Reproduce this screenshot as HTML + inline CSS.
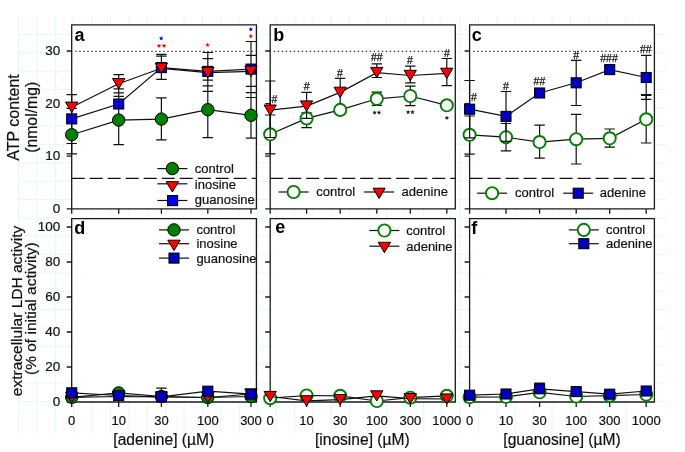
<!DOCTYPE html>
<html><head><meta charset="utf-8"><style>
html,body{margin:0;padding:0;background:#fff;width:685px;height:452px;overflow:hidden}
svg{display:block;will-change:transform}
text{font-family:"Liberation Sans",sans-serif}
</style></head><body>
<svg width="685" height="452" viewBox="0 0 685 452" font-family='"Liberation Sans", sans-serif'><path d="M18.5 16V433M36.9 16V433M55.3 16V433M73.7 16V433M92.1 16V433M110.5 16V433M128.9 16V433M147.3 16V433M165.7 16V433M184.1 16V433M202.5 16V433M220.9 16V433M239.3 16V433M257.7 16V433M276.1 16V433M294.5 16V433M312.9 16V433M331.3 16V433M349.7 16V433M368.1 16V433M386.5 16V433M404.9 16V433M423.3 16V433M441.7 16V433M460.1 16V433M478.5 16V433M496.9 16V433M515.3 16V433M533.7 16V433M552.1 16V433M570.5 16V433M588.9 16V433M607.3 16V433M625.7 16V433M18.5 34.4H667M18.5 52.7H667M18.5 71.1H667M18.5 89.4H667M18.5 107.8H667M18.5 126.1H667M18.5 144.5H667M18.5 162.8H667M18.5 181.2H667M18.5 199.5H667M18.5 217.9H667M18.5 236.2H667M18.5 254.6H667M18.5 272.9H667M18.5 291.2H667M18.5 309.6H667M18.5 328.0H667M18.5 346.3H667M18.5 364.7H667M18.5 383.0H667M18.5 401.4H667" stroke="#e4f8f6" stroke-width="1" fill="none"/>
<rect x="71.7" y="24.8" width="184.7" height="184.0" fill="#fff"/>
<rect x="71.7" y="218.6" width="184.7" height="183.4" fill="#fff"/>
<rect x="270.2" y="24.8" width="185.1" height="184.0" fill="#fff"/>
<rect x="270.2" y="218.6" width="185.1" height="183.4" fill="#fff"/>
<rect x="469.6" y="24.8" width="184.8" height="184.0" fill="#fff"/>
<rect x="469.6" y="218.6" width="184.8" height="183.4" fill="#fff"/>
<line x1="75.2" y1="51.4" x2="255.4" y2="51.4" stroke="#444" stroke-width="1.2" stroke-dasharray="1.5 2.5"/>
<line x1="71.7" y1="178.3" x2="256.4" y2="178.3" stroke="#111" stroke-width="1.3" stroke-dasharray="13 5"/>
<line x1="273.7" y1="51.4" x2="443.5" y2="51.4" stroke="#444" stroke-width="1.2" stroke-dasharray="1.5 2.5"/>
<line x1="270.2" y1="178.3" x2="455.3" y2="178.3" stroke="#111" stroke-width="1.3" stroke-dasharray="13 5"/>
<line x1="473.1" y1="51.4" x2="639.0" y2="51.4" stroke="#444" stroke-width="1.2" stroke-dasharray="1.5 2.5"/>
<line x1="469.6" y1="178.3" x2="654.4" y2="178.3" stroke="#111" stroke-width="1.3" stroke-dasharray="13 5"/>
<path d="M71.7 24.8H256.4V208.8H71.7ZM66.7 208.8H71.7M66.7 156.2H71.7M66.7 103.6H71.7M66.7 51.0H71.7M71.7 208.8V213.8M118.7 208.8V213.8M161.4 208.8V213.8M207.8 208.8V213.8M251.0 208.8V213.8M71.7 218.6H256.4V402.0H71.7ZM66.7 402.0H71.7M66.7 367.0H71.7M66.7 332.0H71.7M66.7 297.0H71.7M66.7 262.0H71.7M66.7 227.0H71.7M71.7 402.0V407.0M118.7 402.0V407.0M161.4 402.0V407.0M207.8 402.0V407.0M251.0 402.0V407.0M270.2 24.8H455.3V208.8H270.2ZM265.2 208.8H270.2M265.2 156.2H270.2M265.2 103.6H270.2M265.2 51.0H270.2M270.2 208.8V213.8M306.6 208.8V213.8M340.2 208.8V213.8M376.8 208.8V213.8M410.3 208.8V213.8M446.8 208.8V213.8M270.2 218.6H455.3V402.0H270.2ZM265.2 402.0H270.2M265.2 367.0H270.2M265.2 332.0H270.2M265.2 297.0H270.2M265.2 262.0H270.2M265.2 227.0H270.2M270.2 402.0V407.0M306.6 402.0V407.0M340.2 402.0V407.0M376.8 402.0V407.0M410.3 402.0V407.0M446.8 402.0V407.0M469.6 24.8H654.4V208.8H469.6ZM464.6 208.8H469.6M464.6 156.2H469.6M464.6 103.6H469.6M464.6 51.0H469.6M469.6 208.8V213.8M506.0 208.8V213.8M539.6 208.8V213.8M576.2 208.8V213.8M609.7 208.8V213.8M646.2 208.8V213.8M469.6 218.6H654.4V402.0H469.6ZM464.6 402.0H469.6M464.6 367.0H469.6M464.6 332.0H469.6M464.6 297.0H469.6M464.6 262.0H469.6M464.6 227.0H469.6M469.6 402.0V407.0M506.0 402.0V407.0M539.6 402.0V407.0M576.2 402.0V407.0M609.7 402.0V407.0M646.2 402.0V407.0" stroke="#1a1a1a" stroke-width="1.3" fill="none"/>
<text x="74.5" y="40.6" font-size="18" text-anchor="start" font-weight="bold" fill="#000" >a</text>
<text x="273.3" y="40.8" font-size="18" text-anchor="start" font-weight="bold" fill="#000" >b</text>
<text x="471.7" y="40.6" font-size="18" text-anchor="start" font-weight="bold" fill="#000" >c</text>
<text x="74.3" y="233.5" font-size="18" text-anchor="start" font-weight="bold" fill="#000" >d</text>
<text x="275.3" y="232.6" font-size="18" text-anchor="start" font-weight="bold" fill="#000" >e</text>
<text x="471.2" y="233.5" font-size="18" text-anchor="start" font-weight="bold" fill="#000" >f</text>
<text x="60.3" y="212.9" font-size="13.5" text-anchor="end" font-weight="normal" fill="#111" stroke="#111" stroke-width="0.2">0</text>
<text x="60.3" y="160.3" font-size="13.5" text-anchor="end" font-weight="normal" fill="#111" stroke="#111" stroke-width="0.2">10</text>
<text x="60.3" y="107.70000000000002" font-size="13.5" text-anchor="end" font-weight="normal" fill="#111" stroke="#111" stroke-width="0.2">20</text>
<text x="60.3" y="55.10000000000003" font-size="13.5" text-anchor="end" font-weight="normal" fill="#111" stroke="#111" stroke-width="0.2">30</text>
<text x="60.3" y="406.1" font-size="13.5" text-anchor="end" font-weight="normal" fill="#111" stroke="#111" stroke-width="0.2">0</text>
<text x="60.3" y="371.1" font-size="13.5" text-anchor="end" font-weight="normal" fill="#111" stroke="#111" stroke-width="0.2">20</text>
<text x="60.3" y="336.1" font-size="13.5" text-anchor="end" font-weight="normal" fill="#111" stroke="#111" stroke-width="0.2">40</text>
<text x="60.3" y="301.1" font-size="13.5" text-anchor="end" font-weight="normal" fill="#111" stroke="#111" stroke-width="0.2">60</text>
<text x="60.3" y="266.1" font-size="13.5" text-anchor="end" font-weight="normal" fill="#111" stroke="#111" stroke-width="0.2">80</text>
<text x="60.3" y="231.1" font-size="13.5" text-anchor="end" font-weight="normal" fill="#111" stroke="#111" stroke-width="0.2">100</text>
<text x="71.7" y="425.3" font-size="13" text-anchor="middle" font-weight="normal" fill="#111" stroke="#111" stroke-width="0.2">0</text>
<text x="118.7" y="425.3" font-size="13" text-anchor="middle" font-weight="normal" fill="#111" stroke="#111" stroke-width="0.2">10</text>
<text x="161.4" y="425.3" font-size="13" text-anchor="middle" font-weight="normal" fill="#111" stroke="#111" stroke-width="0.2">30</text>
<text x="207.8" y="425.3" font-size="13" text-anchor="middle" font-weight="normal" fill="#111" stroke="#111" stroke-width="0.2">100</text>
<text x="251.0" y="425.3" font-size="13" text-anchor="middle" font-weight="normal" fill="#111" stroke="#111" stroke-width="0.2">300</text>
<text x="270.2" y="425.3" font-size="13" text-anchor="middle" font-weight="normal" fill="#111" stroke="#111" stroke-width="0.2">0</text>
<text x="306.6" y="425.3" font-size="13" text-anchor="middle" font-weight="normal" fill="#111" stroke="#111" stroke-width="0.2">10</text>
<text x="340.2" y="425.3" font-size="13" text-anchor="middle" font-weight="normal" fill="#111" stroke="#111" stroke-width="0.2">30</text>
<text x="376.8" y="425.3" font-size="13" text-anchor="middle" font-weight="normal" fill="#111" stroke="#111" stroke-width="0.2">100</text>
<text x="410.3" y="425.3" font-size="13" text-anchor="middle" font-weight="normal" fill="#111" stroke="#111" stroke-width="0.2">300</text>
<text x="446.8" y="425.3" font-size="13" text-anchor="middle" font-weight="normal" fill="#111" stroke="#111" stroke-width="0.2">1000</text>
<text x="469.6" y="425.3" font-size="13" text-anchor="middle" font-weight="normal" fill="#111" stroke="#111" stroke-width="0.2">0</text>
<text x="506.0" y="425.3" font-size="13" text-anchor="middle" font-weight="normal" fill="#111" stroke="#111" stroke-width="0.2">10</text>
<text x="539.6" y="425.3" font-size="13" text-anchor="middle" font-weight="normal" fill="#111" stroke="#111" stroke-width="0.2">30</text>
<text x="576.2" y="425.3" font-size="13" text-anchor="middle" font-weight="normal" fill="#111" stroke="#111" stroke-width="0.2">100</text>
<text x="609.7" y="425.3" font-size="13" text-anchor="middle" font-weight="normal" fill="#111" stroke="#111" stroke-width="0.2">300</text>
<text x="646.2" y="425.3" font-size="13" text-anchor="middle" font-weight="normal" fill="#111" stroke="#111" stroke-width="0.2">1000</text>
<text x="163.8" y="444.5" font-size="15.6" text-anchor="middle" font-weight="normal" fill="#111" stroke="#111" stroke-width="0.2">[adenine] (µM)</text>
<text x="362.3" y="444.5" font-size="15.6" text-anchor="middle" font-weight="normal" fill="#111" stroke="#111" stroke-width="0.2">[inosine] (µM)</text>
<text x="562" y="444.5" font-size="15.6" text-anchor="middle" font-weight="normal" fill="#111" stroke="#111" stroke-width="0.2">[guanosine] (µM)</text>
<text x="0" y="0" font-size="16" text-anchor="middle" fill="#111" stroke="#111" stroke-width="0.2" transform="translate(19.3,117.5) rotate(-90)">ATP content</text>
<text x="0" y="0" font-size="15.8" text-anchor="middle" fill="#111" stroke="#111" stroke-width="0.2" transform="translate(36.8,117.3) rotate(-90)">(nmol/mg)</text>
<text x="0" y="0" font-size="15.5" text-anchor="middle" fill="#111" stroke="#111" stroke-width="0.2" transform="translate(22.2,310.9) rotate(-90)">extracellular LDH activity</text>
<text x="0" y="0" font-size="15.5" text-anchor="middle" fill="#111" stroke="#111" stroke-width="0.2" transform="translate(35.8,308.7) rotate(-90)">(% of initial activity)</text>
<polyline points="71.7,134.7 118.7,120.1 161.4,119.1 207.8,109.7 251.0,115.3" fill="none" stroke="#111" stroke-width="1.2"/>
<polyline points="71.7,118.9 118.7,104.0 161.4,67.6 207.8,71.4 251.0,69.1" fill="none" stroke="#111" stroke-width="1.2"/>
<polyline points="71.7,107.3 118.7,83.7 161.4,68.3 207.8,72.7 251.0,71.4" fill="none" stroke="#111" stroke-width="1.2"/>
<rect x="66.7" y="113.9" width="10.0" height="10.0" fill="#0000ff" stroke="#000" stroke-width="1.1"/>
<rect x="113.7" y="99.0" width="10.0" height="10.0" fill="#0000ff" stroke="#000" stroke-width="1.1"/>
<rect x="156.4" y="62.6" width="10.0" height="10.0" fill="#0000ff" stroke="#000" stroke-width="1.1"/>
<rect x="202.8" y="66.4" width="10.0" height="10.0" fill="#0000ff" stroke="#000" stroke-width="1.1"/>
<rect x="246.0" y="64.1" width="10.0" height="10.0" fill="#0000ff" stroke="#000" stroke-width="1.1"/>
<path d="M71.7 94.7V153.9M66.5 94.7H76.9M66.5 108.4H76.9M66.5 143.5H76.9M66.5 153.9H76.9" stroke="#111" stroke-width="1.2" fill="none"/>
<path d="M118.7 74.7V144.6M113.5 74.7H123.9M113.5 88.9H123.9M113.5 92.9H123.9M113.5 96.4H123.9M113.5 144.6H123.9" stroke="#111" stroke-width="1.2" fill="none"/>
<path d="M161.4 54.3V79.3M156.2 54.3H166.6M156.2 56.1H166.6M156.2 79.3H166.6" stroke="#111" stroke-width="1.2" fill="none"/>
<path d="M207.8 52.5V137.6M202.6 52.5H213.0M202.6 58.7H213.0M202.6 80.2H213.0M202.6 85.8H213.0M202.6 91.3H213.0M202.6 137.6H213.0" stroke="#111" stroke-width="1.2" fill="none"/>
<path d="M251.0 41.5V138.1M245.8 41.5H256.2M245.8 55.4H256.2M245.8 86.4H256.2M245.8 92.6H256.2M245.8 97.5H256.2M245.8 138.1H256.2" stroke="#111" stroke-width="1.2" fill="none"/>
<path d="M161.4 97.9V139.9M156.2 97.9H166.6M156.2 139.9H166.6" stroke="#111" stroke-width="1.2" fill="none"/>
<circle cx="71.7" cy="134.7" r="6.2" fill="#008000" stroke="#000" stroke-width="1"/>
<circle cx="118.7" cy="120.1" r="6.2" fill="#008000" stroke="#000" stroke-width="1"/>
<circle cx="161.4" cy="119.1" r="6.2" fill="#008000" stroke="#000" stroke-width="1"/>
<circle cx="207.8" cy="109.7" r="6.2" fill="#008000" stroke="#000" stroke-width="1"/>
<circle cx="251.0" cy="115.3" r="6.2" fill="#008000" stroke="#000" stroke-width="1"/>
<path d="M65.5 102.1H77.9L71.7 112.5Z" fill="#ff0000" stroke="#000" stroke-width="1"/>
<path d="M112.5 78.5H124.9L118.7 88.9Z" fill="#ff0000" stroke="#000" stroke-width="1"/>
<path d="M155.2 63.1H167.6L161.4 73.5Z" fill="#ff0000" stroke="#000" stroke-width="1"/>
<path d="M201.7 67.5H214.0L207.8 77.9Z" fill="#ff0000" stroke="#000" stroke-width="1"/>
<path d="M244.8 66.2H257.1L251.0 76.6Z" fill="#ff0000" stroke="#000" stroke-width="1"/>
<polygon points="161.20,35.90 161.83,37.43 163.48,37.56 162.23,38.63 162.61,40.24 161.20,39.38 159.79,40.24 160.17,38.63 158.92,37.56 160.57,37.43" fill="#0000ff"/>
<polygon points="159.00,43.40 159.63,44.93 161.28,45.06 160.03,46.13 160.41,47.74 159.00,46.88 157.59,47.74 157.97,46.13 156.72,45.06 158.37,44.93" fill="#ff0000"/>
<polygon points="164.10,43.40 164.73,44.93 166.38,45.06 165.13,46.13 165.51,47.74 164.10,46.88 162.69,47.74 163.07,46.13 161.82,45.06 163.47,44.93" fill="#ff0000"/>
<polygon points="207.60,42.60 208.23,44.13 209.88,44.26 208.63,45.33 209.01,46.94 207.60,46.08 206.19,46.94 206.57,45.33 205.32,44.26 206.97,44.13" fill="#ff0000"/>
<polygon points="250.80,26.90 251.43,28.43 253.08,28.56 251.83,29.63 252.21,31.24 250.80,30.38 249.39,31.24 249.77,29.63 248.52,28.56 250.17,28.43" fill="#0000ff"/>
<polygon points="250.80,33.80 251.43,35.33 253.08,35.46 251.83,36.53 252.21,38.14 250.80,37.28 249.39,38.14 249.77,36.53 248.52,35.46 250.17,35.33" fill="#ff0000"/>
<line x1="157.4" y1="168.6" x2="187.4" y2="168.6" stroke="#111" stroke-width="1.2"/>
<circle cx="172.4" cy="168.6" r="6.2" fill="#008000" stroke="#000" stroke-width="1"/>
<text x="194.8" y="173.0" font-size="13" text-anchor="start" font-weight="normal" fill="#111" stroke="#111" stroke-width="0.2">control</text>
<line x1="157.4" y1="183.8" x2="187.4" y2="183.8" stroke="#111" stroke-width="1.2"/>
<path d="M166.2 181.7H178.6L172.4 192.0Z" fill="#ff0000" stroke="#000" stroke-width="1"/>
<text x="194.8" y="188.8" font-size="13" text-anchor="start" font-weight="normal" fill="#111" stroke="#111" stroke-width="0.2">inosine</text>
<line x1="157.4" y1="200.5" x2="187.4" y2="200.5" stroke="#111" stroke-width="1.2"/>
<rect x="167.6" y="195.6" width="10.0" height="10.0" fill="#0000ff" stroke="#000" stroke-width="1.1"/>
<text x="194.8" y="204.2" font-size="13" text-anchor="start" font-weight="normal" fill="#111" stroke="#111" stroke-width="0.2">guanosine</text>
<path d="M270.2 115.0V153.9M265.0 115.0H275.4M265.0 153.9H275.4" stroke="#111" stroke-width="1.2" fill="none"/>
<path d="M306.6 112.8V127.6M301.4 112.8H311.8M301.4 127.6H311.8" stroke="#111" stroke-width="1.2" fill="none"/>
<path d="M340.2 107.0V113.0M335.0 107.0H345.4M335.0 113.0H345.4" stroke="#111" stroke-width="1.2" fill="none"/>
<path d="M376.8 92.1V105.3M371.6 92.1H382.0M371.6 105.3H382.0" stroke="#111" stroke-width="1.2" fill="none"/>
<path d="M410.3 86.2V105.7M405.1 86.2H415.5M405.1 105.7H415.5" stroke="#111" stroke-width="1.2" fill="none"/>
<path d="M446.8 103.0V108.0M441.6 103.0H452.0M441.6 108.0H452.0" stroke="#111" stroke-width="1.2" fill="none"/>
<polyline points="270.2,134.3 306.6,118.4 340.2,109.9 376.8,98.8 410.3,96.0 446.8,105.3" fill="none" stroke="#111" stroke-width="1.2"/>
<circle cx="270.2" cy="134.3" r="6.1" fill="#fff" stroke="#008000" stroke-width="1.9"/>
<circle cx="306.6" cy="118.4" r="6.1" fill="#fff" stroke="#008000" stroke-width="1.9"/>
<circle cx="340.2" cy="109.9" r="6.1" fill="#fff" stroke="#008000" stroke-width="1.9"/>
<circle cx="376.8" cy="98.8" r="6.1" fill="#fff" stroke="#008000" stroke-width="1.9"/>
<circle cx="410.3" cy="96.0" r="6.1" fill="#fff" stroke="#008000" stroke-width="1.9"/>
<circle cx="446.8" cy="105.3" r="6.1" fill="#fff" stroke="#008000" stroke-width="1.9"/>
<path d="M270.2 81.0V137.5M265.0 81.0H275.4M265.0 137.5H275.4" stroke="#111" stroke-width="1.2" fill="none"/>
<path d="M306.6 92.4V118.4M301.4 92.4H311.8M301.4 118.4H311.8" stroke="#111" stroke-width="1.2" fill="none"/>
<path d="M340.2 78.4V103.5M335.0 78.4H345.4" stroke="#111" stroke-width="1.2" fill="none"/>
<path d="M376.8 63.8V77.5M371.6 63.8H382.0M371.6 77.5H382.0" stroke="#111" stroke-width="1.2" fill="none"/>
<path d="M410.3 66.1V82.8M405.1 66.1H415.5M405.1 82.8H415.5" stroke="#111" stroke-width="1.2" fill="none"/>
<path d="M446.8 58.5V85.7M441.6 58.5H452.0M441.6 85.7H452.0" stroke="#111" stroke-width="1.2" fill="none"/>
<polyline points="270.2,110.2 306.6,106.1 340.2,92.4 376.8,72.6 410.3,75.5 446.8,73.4" fill="none" stroke="#111" stroke-width="1.2"/>
<path d="M264.1 105.0H276.3L270.2 115.4Z" fill="#ff0000" stroke="#000" stroke-width="1"/>
<path d="M300.4 100.9H312.7L306.6 111.2Z" fill="#ff0000" stroke="#000" stroke-width="1"/>
<path d="M334.1 87.2H346.3L340.2 97.6Z" fill="#ff0000" stroke="#000" stroke-width="1"/>
<path d="M370.6 67.4H382.9L376.8 77.8Z" fill="#ff0000" stroke="#000" stroke-width="1"/>
<path d="M404.1 70.3H416.4L410.3 80.7Z" fill="#ff0000" stroke="#000" stroke-width="1"/>
<path d="M440.6 68.2H452.9L446.8 78.6Z" fill="#ff0000" stroke="#000" stroke-width="1"/>
<text x="274.5" y="103.2" font-size="10.5" text-anchor="middle" font-weight="normal" fill="#111" stroke="#111" stroke-width="0.25">#</text>
<text x="306.7" y="90.39999999999999" font-size="10.5" text-anchor="middle" font-weight="normal" fill="#111" stroke="#111" stroke-width="0.25">#</text>
<text x="339.9" y="77.2" font-size="10.5" text-anchor="middle" font-weight="normal" fill="#111" stroke="#111" stroke-width="0.25">#</text>
<text x="376.8" y="61.199999999999996" font-size="10.5" text-anchor="middle" font-weight="normal" fill="#111" stroke="#111" stroke-width="0.25">##</text>
<text x="409.9" y="63.8" font-size="10.5" text-anchor="middle" font-weight="normal" fill="#111" stroke="#111" stroke-width="0.25">#</text>
<text x="446.9" y="56.9" font-size="10.5" text-anchor="middle" font-weight="normal" fill="#111" stroke="#111" stroke-width="0.25">#</text>
<polygon points="374.60,110.20 375.23,111.73 376.88,111.86 375.63,112.93 376.01,114.54 374.60,113.68 373.19,114.54 373.57,112.93 372.32,111.86 373.97,111.73" fill="#222"/>
<polygon points="379.00,110.20 379.63,111.73 381.28,111.86 380.03,112.93 380.41,114.54 379.00,113.68 377.59,114.54 377.97,112.93 376.72,111.86 378.37,111.73" fill="#222"/>
<polygon points="408.10,109.80 408.73,111.33 410.38,111.46 409.13,112.53 409.51,114.14 408.10,113.28 406.69,114.14 407.07,112.53 405.82,111.46 407.47,111.33" fill="#222"/>
<polygon points="412.50,109.80 413.13,111.33 414.78,111.46 413.53,112.53 413.91,114.14 412.50,113.28 411.09,114.14 411.47,112.53 410.22,111.46 411.87,111.33" fill="#222"/>
<polygon points="446.90,115.40 447.53,116.93 449.18,117.06 447.93,118.13 448.31,119.74 446.90,118.88 445.49,119.74 445.87,118.13 444.62,117.06 446.27,116.93" fill="#222"/>
<line x1="278.6" y1="192" x2="308.6" y2="192" stroke="#111" stroke-width="1.2"/>
<circle cx="293.6" cy="192.0" r="6.1" fill="#fff" stroke="#008000" stroke-width="1.9"/>
<text x="316.2" y="195.7" font-size="13" text-anchor="start" font-weight="normal" fill="#111" stroke="#111" stroke-width="0.2">control</text>
<line x1="364.1" y1="192" x2="394.1" y2="192" stroke="#111" stroke-width="1.2"/>
<path d="M373.0 188.2H385.2L379.1 198.5Z" fill="#ff0000" stroke="#000" stroke-width="1"/>
<text x="401.6" y="195.7" font-size="13" text-anchor="start" font-weight="normal" fill="#111" stroke="#111" stroke-width="0.2">adenine</text>
<path d="M469.6 116.0V154.2M464.4 116.0H474.8M464.4 154.2H474.8" stroke="#111" stroke-width="1.2" fill="none"/>
<path d="M506.0 123.5V150.9M500.8 123.5H511.2M500.8 150.9H511.2" stroke="#111" stroke-width="1.2" fill="none"/>
<path d="M539.6 125.2V158.2M534.4 125.2H544.8M534.4 158.2H544.8" stroke="#111" stroke-width="1.2" fill="none"/>
<path d="M576.2 114.4V164.0M571.0 114.4H581.4M571.0 164.0H581.4" stroke="#111" stroke-width="1.2" fill="none"/>
<path d="M609.7 129.0V147.1M604.5 129.0H614.9M604.5 147.1H614.9" stroke="#111" stroke-width="1.2" fill="none"/>
<path d="M646.2 95.5V143.0M641.0 95.5H651.4M641.0 143.0H651.4" stroke="#111" stroke-width="1.2" fill="none"/>
<polyline points="469.6,134.8 506.0,137.2 539.6,142.1 576.2,139.2 609.7,138.3 646.2,119.3" fill="none" stroke="#111" stroke-width="1.2"/>
<circle cx="469.6" cy="134.8" r="6.1" fill="#fff" stroke="#008000" stroke-width="1.9"/>
<circle cx="506.0" cy="137.2" r="6.1" fill="#fff" stroke="#008000" stroke-width="1.9"/>
<circle cx="539.6" cy="142.1" r="6.1" fill="#fff" stroke="#008000" stroke-width="1.9"/>
<circle cx="576.2" cy="139.2" r="6.1" fill="#fff" stroke="#008000" stroke-width="1.9"/>
<circle cx="609.7" cy="138.3" r="6.1" fill="#fff" stroke="#008000" stroke-width="1.9"/>
<circle cx="646.2" cy="119.3" r="6.1" fill="#fff" stroke="#008000" stroke-width="1.9"/>
<path d="M469.6 80.5V137.8M464.4 80.5H474.8M464.4 137.8H474.8" stroke="#111" stroke-width="1.2" fill="none"/>
<path d="M506.0 91.5V141.3M500.8 91.5H511.2M500.8 141.3H511.2" stroke="#111" stroke-width="1.2" fill="none"/>
<path d="M539.6 89.0V97.0M534.4 89.0H544.8M534.4 97.0H544.8" stroke="#111" stroke-width="1.2" fill="none"/>
<path d="M576.2 60.3V105.5M571.0 60.3H581.4M571.0 105.5H581.4" stroke="#111" stroke-width="1.2" fill="none"/>
<path d="M609.7 66.0V73.0M604.5 66.0H614.9M604.5 73.0H614.9" stroke="#111" stroke-width="1.2" fill="none"/>
<path d="M646.2 55.4V99.4M641.0 55.4H651.4M641.0 94.7H651.4M641.0 99.4H651.4" stroke="#111" stroke-width="1.2" fill="none"/>
<polyline points="469.6,109.2 506.0,116.4 539.6,93.0 576.2,82.8 609.7,69.6 646.2,77.5" fill="none" stroke="#111" stroke-width="1.2"/>
<rect x="464.6" y="104.2" width="10.0" height="10.0" fill="#0000c4" stroke="#000" stroke-width="1.1"/>
<rect x="501.0" y="111.4" width="10.0" height="10.0" fill="#0000c4" stroke="#000" stroke-width="1.1"/>
<rect x="534.6" y="88.0" width="10.0" height="10.0" fill="#0000c4" stroke="#000" stroke-width="1.1"/>
<rect x="571.2" y="77.8" width="10.0" height="10.0" fill="#0000c4" stroke="#000" stroke-width="1.1"/>
<rect x="604.7" y="64.6" width="10.0" height="10.0" fill="#0000c4" stroke="#000" stroke-width="1.1"/>
<rect x="641.2" y="72.5" width="10.0" height="10.0" fill="#0000c4" stroke="#000" stroke-width="1.1"/>
<text x="474.0" y="101.0" font-size="10.5" text-anchor="middle" font-weight="normal" fill="#111" stroke="#111" stroke-width="0.25">#</text>
<text x="505.8" y="90.39999999999999" font-size="10.5" text-anchor="middle" font-weight="normal" fill="#111" stroke="#111" stroke-width="0.25">#</text>
<text x="539.4" y="85.1" font-size="10.5" text-anchor="middle" font-weight="normal" fill="#111" stroke="#111" stroke-width="0.25">##</text>
<text x="576.2" y="58.8" font-size="10.5" text-anchor="middle" font-weight="normal" fill="#111" stroke="#111" stroke-width="0.25">#</text>
<text x="609.0" y="61.599999999999994" font-size="10.5" text-anchor="middle" font-weight="normal" fill="#111" stroke="#111" stroke-width="0.25">###</text>
<text x="645.8" y="52.599999999999994" font-size="10.5" text-anchor="middle" font-weight="normal" fill="#111" stroke="#111" stroke-width="0.25">##</text>
<line x1="477.1" y1="193.2" x2="507.1" y2="193.2" stroke="#111" stroke-width="1.2"/>
<circle cx="492.1" cy="193.2" r="6.1" fill="#fff" stroke="#008000" stroke-width="1.9"/>
<text x="515.0" y="196.8" font-size="13" text-anchor="start" font-weight="normal" fill="#111" stroke="#111" stroke-width="0.2">control</text>
<line x1="563.2" y1="193.2" x2="593.2" y2="193.2" stroke="#111" stroke-width="1.2"/>
<rect x="573.2" y="188.2" width="10.0" height="10.0" fill="#0000c4" stroke="#000" stroke-width="1.1"/>
<text x="599.8" y="196.8" font-size="13" text-anchor="start" font-weight="normal" fill="#111" stroke="#111" stroke-width="0.2">adenine</text>
<path d="M161.4 388.2V396.0M156.2 388.2H166.6M156.2 396.0H166.6" stroke="#111" stroke-width="1.2" fill="none"/>
<polyline points="71.7,397.3 118.7,392.9 161.4,396.5 207.8,397.5 251.0,396.5" fill="none" stroke="#111" stroke-width="1.2"/>
<polyline points="71.7,397.3 118.7,396.5 161.4,397.0 207.8,397.5 251.0,394.0" fill="none" stroke="#111" stroke-width="1.2"/>
<polyline points="71.7,392.8 118.7,395.5 161.4,396.8 207.8,391.2 251.0,394.1" fill="none" stroke="#111" stroke-width="1.2"/>
<circle cx="71.7" cy="397.3" r="6.2" fill="#008000" stroke="#000" stroke-width="1"/>
<circle cx="118.7" cy="392.9" r="6.2" fill="#008000" stroke="#000" stroke-width="1"/>
<circle cx="161.4" cy="396.5" r="6.2" fill="#008000" stroke="#000" stroke-width="1"/>
<circle cx="207.8" cy="397.5" r="6.2" fill="#008000" stroke="#000" stroke-width="1"/>
<circle cx="251.0" cy="396.5" r="6.2" fill="#008000" stroke="#000" stroke-width="1"/>
<path d="M65.5 392.2H77.9L71.7 402.4Z" fill="#ff0000" stroke="#000" stroke-width="1"/>
<path d="M112.5 391.4H124.9L118.7 401.6Z" fill="#ff0000" stroke="#000" stroke-width="1"/>
<path d="M155.2 391.9H167.6L161.4 402.1Z" fill="#ff0000" stroke="#000" stroke-width="1"/>
<path d="M201.7 392.4H214.0L207.8 402.6Z" fill="#ff0000" stroke="#000" stroke-width="1"/>
<path d="M244.8 388.9H257.1L251.0 399.1Z" fill="#ff0000" stroke="#000" stroke-width="1"/>
<rect x="66.7" y="387.8" width="10.0" height="10.0" fill="#0000c4" stroke="#000" stroke-width="1.1"/>
<rect x="113.7" y="390.5" width="10.0" height="10.0" fill="#0000c4" stroke="#000" stroke-width="1.1"/>
<rect x="156.4" y="391.8" width="10.0" height="10.0" fill="#0000c4" stroke="#000" stroke-width="1.1"/>
<rect x="202.8" y="386.2" width="10.0" height="10.0" fill="#0000c4" stroke="#000" stroke-width="1.1"/>
<rect x="246.0" y="389.1" width="10.0" height="10.0" fill="#0000c4" stroke="#000" stroke-width="1.1"/>
<line x1="159.0" y1="229.9" x2="189.0" y2="229.9" stroke="#111" stroke-width="1.2"/>
<circle cx="174.0" cy="229.9" r="6.2" fill="#008000" stroke="#000" stroke-width="1"/>
<text x="196.4" y="234.4" font-size="13" text-anchor="start" font-weight="normal" fill="#111" stroke="#111" stroke-width="0.2">control</text>
<line x1="159.0" y1="243.7" x2="189.0" y2="243.7" stroke="#111" stroke-width="1.2"/>
<path d="M167.8 240.2H180.2L174.0 250.5Z" fill="#ff0000" stroke="#000" stroke-width="1"/>
<text x="196.4" y="248.4" font-size="13" text-anchor="start" font-weight="normal" fill="#111" stroke="#111" stroke-width="0.2">inosine</text>
<line x1="159.0" y1="258.1" x2="189.0" y2="258.1" stroke="#111" stroke-width="1.2"/>
<rect x="169.0" y="253.1" width="10.0" height="10.0" fill="#0000c4" stroke="#000" stroke-width="1.1"/>
<text x="196.4" y="262.6" font-size="13" text-anchor="start" font-weight="normal" fill="#111" stroke="#111" stroke-width="0.2">guanosine</text>
<polyline points="270.2,398.2 306.6,395.5 340.2,395.8 376.8,401.0 410.3,397.7 446.8,395.8" fill="none" stroke="#111" stroke-width="1.2"/>
<circle cx="270.2" cy="398.2" r="6.1" fill="#fff" stroke="#008000" stroke-width="1.9"/>
<circle cx="306.6" cy="395.5" r="6.1" fill="#fff" stroke="#008000" stroke-width="1.9"/>
<circle cx="340.2" cy="395.8" r="6.1" fill="#fff" stroke="#008000" stroke-width="1.9"/>
<circle cx="376.8" cy="401.0" r="6.1" fill="#fff" stroke="#008000" stroke-width="1.9"/>
<circle cx="410.3" cy="397.7" r="6.1" fill="#fff" stroke="#008000" stroke-width="1.9"/>
<circle cx="446.8" cy="395.8" r="6.1" fill="#fff" stroke="#008000" stroke-width="1.9"/>
<polyline points="270.2,396.5 306.6,400.8 340.2,399.6 376.8,395.9 410.3,398.7 446.8,399.0" fill="none" stroke="#111" stroke-width="1.2"/>
<path d="M264.1 391.4H276.3L270.2 401.6Z" fill="#ff0000" stroke="#000" stroke-width="1"/>
<path d="M300.4 395.7H312.7L306.6 405.9Z" fill="#ff0000" stroke="#000" stroke-width="1"/>
<path d="M334.1 394.5H346.3L340.2 404.8Z" fill="#ff0000" stroke="#000" stroke-width="1"/>
<path d="M370.6 390.8H382.9L376.8 401.0Z" fill="#ff0000" stroke="#000" stroke-width="1"/>
<path d="M404.1 393.6H416.4L410.3 403.8Z" fill="#ff0000" stroke="#000" stroke-width="1"/>
<path d="M440.6 393.9H452.9L446.8 404.1Z" fill="#ff0000" stroke="#000" stroke-width="1"/>
<line x1="369.4" y1="230.5" x2="399.4" y2="230.5" stroke="#111" stroke-width="1.2"/>
<circle cx="384.4" cy="230.5" r="6.1" fill="#fff" stroke="#008000" stroke-width="1.9"/>
<text x="406.2" y="235.0" font-size="13" text-anchor="start" font-weight="normal" fill="#111" stroke="#111" stroke-width="0.2">control</text>
<line x1="369.4" y1="246.2" x2="399.4" y2="246.2" stroke="#111" stroke-width="1.2"/>
<path d="M378.2 242.3H390.5L384.4 252.7Z" fill="#ff0000" stroke="#000" stroke-width="1"/>
<text x="406.2" y="250.7" font-size="13" text-anchor="start" font-weight="normal" fill="#111" stroke="#111" stroke-width="0.2">adenine</text>
<path d="M539.6 383.1V390.0M534.4 383.1H544.8M534.4 390.0H544.8" stroke="#111" stroke-width="1.2" fill="none"/>
<polyline points="469.6,397.1 506.0,396.8 539.6,392.3 576.2,396.5 609.7,395.7 646.2,394.5" fill="none" stroke="#111" stroke-width="1.2"/>
<circle cx="469.6" cy="397.1" r="6.1" fill="#fff" stroke="#008000" stroke-width="1.9"/>
<circle cx="506.0" cy="396.8" r="6.1" fill="#fff" stroke="#008000" stroke-width="1.9"/>
<circle cx="539.6" cy="392.3" r="6.1" fill="#fff" stroke="#008000" stroke-width="1.9"/>
<circle cx="576.2" cy="396.5" r="6.1" fill="#fff" stroke="#008000" stroke-width="1.9"/>
<circle cx="609.7" cy="395.7" r="6.1" fill="#fff" stroke="#008000" stroke-width="1.9"/>
<circle cx="646.2" cy="394.5" r="6.1" fill="#fff" stroke="#008000" stroke-width="1.9"/>
<polyline points="469.6,395.2 506.0,394.0 539.6,388.8 576.2,391.6 609.7,394.2 646.2,391.0" fill="none" stroke="#111" stroke-width="1.2"/>
<rect x="464.6" y="390.2" width="10.0" height="10.0" fill="#0000c4" stroke="#000" stroke-width="1.1"/>
<rect x="501.0" y="389.0" width="10.0" height="10.0" fill="#0000c4" stroke="#000" stroke-width="1.1"/>
<rect x="534.6" y="383.8" width="10.0" height="10.0" fill="#0000c4" stroke="#000" stroke-width="1.1"/>
<rect x="571.2" y="386.6" width="10.0" height="10.0" fill="#0000c4" stroke="#000" stroke-width="1.1"/>
<rect x="604.7" y="389.2" width="10.0" height="10.0" fill="#0000c4" stroke="#000" stroke-width="1.1"/>
<rect x="641.2" y="386.0" width="10.0" height="10.0" fill="#0000c4" stroke="#000" stroke-width="1.1"/>
<line x1="568.8" y1="229.9" x2="598.8" y2="229.9" stroke="#111" stroke-width="1.2"/>
<circle cx="583.8" cy="229.9" r="6.1" fill="#fff" stroke="#008000" stroke-width="1.9"/>
<text x="606.1" y="234.4" font-size="13" text-anchor="start" font-weight="normal" fill="#111" stroke="#111" stroke-width="0.2">control</text>
<line x1="568.8" y1="243.7" x2="598.8" y2="243.7" stroke="#111" stroke-width="1.2"/>
<rect x="578.8" y="238.7" width="10.0" height="10.0" fill="#0000c4" stroke="#000" stroke-width="1.1"/>
<text x="606.1" y="248.2" font-size="13" text-anchor="start" font-weight="normal" fill="#111" stroke="#111" stroke-width="0.2">adenine</text></svg>
</body></html>
